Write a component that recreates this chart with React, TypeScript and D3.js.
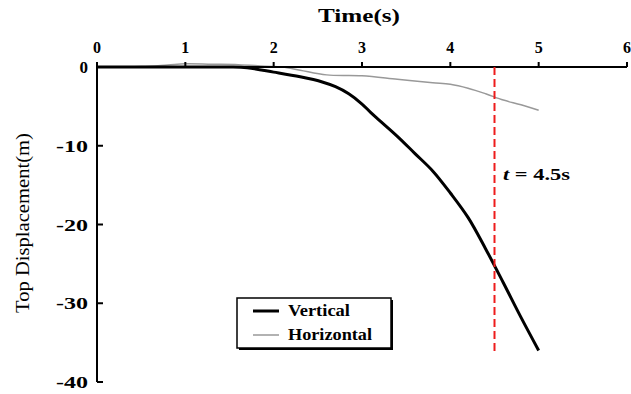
import React from "react";
import * as d3 from "d3";

const verticalTime = [0, 0.5, 1, 1.5, 1.7, 2.0, 2.3, 2.55, 2.7, 2.85, 3.0, 3.1, 3.2, 3.4, 3.6, 3.8, 4.0, 4.2, 4.4, 4.6, 4.8, 5.0];
const verticalDisp = [0, 0, 0, 0, -0.1, -0.65, -1.25, -1.9, -2.5, -3.4, -4.7, -5.8, -6.8, -8.8, -11.0, -13.2, -16.0, -19.1, -23.1, -27.4, -31.8, -36.0];

const horizontalTime = [0, 0.5, 0.8, 1.0, 1.3, 1.6, 1.9, 2.1, 2.3, 2.6, 3.0, 3.4, 3.8, 4.0, 4.2, 4.4, 4.6, 4.8, 5.0];
const horizontalDisp = [0, 0.05, 0.25, 0.4, 0.35, 0.3, 0.1, 0, -0.4, -1.0, -1.1, -1.55, -2.0, -2.2, -2.7, -3.4, -4.2, -4.8, -5.5];

const xTicks = [0, 1, 2, 3, 4, 5, 6];
const yTicks = [0, -10, -20, -30, -40];
const markerTime = 4.5;

const seriesNames = ["Vertical", "Horizontal"];

export default function App() {
  const x = d3.scaleLinear().domain([0, 6]).range([97, 627]);
  const y = d3.scaleLinear().domain([0, -40]).range([67, 382]);

  const line = d3
    .line<[number, number]>()
    .x((d) => x(d[0]))
    .y((d) => y(d[1]))
    .curve(d3.curveCatmullRom.alpha(0.5));

  const vData: [number, number][] = verticalTime.map((t, i) => [t, verticalDisp[i]]);
  const hData: [number, number][] = horizontalTime.map((t, i) => [t, horizontalDisp[i]]);

  const font = "Liberation Serif, Times New Roman, Times, serif";

  return (
    <svg
      width={631}
      height={394}
      style={{ position: "absolute", left: 0, top: 0, background: "#fff", fontFamily: font }}
    >
      <rect x={0} y={0} width={631} height={394} fill="#fff" />
      {/* title */}
      <text x={359} y={22} textAnchor="middle" fontSize={19} fontWeight="bold" fill="#000" textLength={82} lengthAdjust="spacingAndGlyphs" style={{ fontFamily: font }}>
        Time(s)
      </text>
      {/* y label */}
      <text
        transform={`translate(29,223) rotate(-90)`}
        textAnchor="middle"
        fontSize={18}
        fill="#000"
        textLength={180}
        lengthAdjust="spacingAndGlyphs"
        style={{ fontFamily: font }}
      >
        Top Displacement(m)
      </text>

      {/* curves */}
      <path d={line(hData) || ""} fill="none" stroke="#999" strokeWidth={1.5} />
      <path d={line(vData) || ""} fill="none" stroke="#000" strokeWidth={3} />

      {/* axes */}
      <line x1={x(0)} x2={x(6)} y1={y(0)} y2={y(0)} stroke="#000" strokeWidth={2} />
      <line x1={x(0)} x2={x(0)} y1={y(0) - 5} y2={y(-40)} stroke="#000" strokeWidth={2} />
      {xTicks.map((t) => (
        <g key={"xt" + t}>
          <line x1={x(t)} x2={x(t)} y1={y(0)} y2={y(0) - 5} stroke="#000" strokeWidth={2} />
          <text x={x(t)} y={53} textAnchor="middle" fontSize={16} fontWeight="bold" fill="#000" style={{ fontFamily: font }}>
            {t}
          </text>
        </g>
      ))}
      {yTicks.map((v) => (
        <g key={"yt" + v}>
          <line x1={x(0)} x2={x(0) + 6} y1={y(v)} y2={y(v)} stroke="#000" strokeWidth={2} />
          <text
            x={88}
            y={y(v) + 6}
            textAnchor="end"
            fontSize={17}
            fontWeight="bold"
            fill="#000"
            style={{ fontFamily: font }}
            {...(v !== 0 ? { textLength: 32, lengthAdjust: "spacingAndGlyphs" } : {})}
          >
            {v}
          </text>
        </g>
      ))}

      {/* marker line */}
      <line
        x1={x(markerTime)}
        x2={x(markerTime)}
        y1={y(0)}
        y2={352}
        stroke="#ee1c1c"
        strokeWidth={2}
        strokeDasharray="8,4"
      />
      <text x={503} y={180} fontSize={17} fontWeight="bold" fill="#000" textLength={67} lengthAdjust="spacingAndGlyphs" style={{ fontFamily: font }}>
        <tspan fontStyle="italic">t</tspan> = {markerTime}s
      </text>

      {/* legend */}
      <rect x={239} y={300} width={154} height={50} fill="#000" />
      <rect x={237} y={298} width={154} height={50} fill="#fff" stroke="#000" strokeWidth={1.5} />
      <line x1={253} x2={279} y1={311} y2={311} stroke="#000" strokeWidth={3} />
      <line x1={253} x2={279} y1={335} y2={335} stroke="#999" strokeWidth={1.5} />
      <text x={288} y={316} fontSize={16} fontWeight="bold" fill="#000" textLength={62} lengthAdjust="spacingAndGlyphs" style={{ fontFamily: font }}>
        {seriesNames[0]}
      </text>
      <text x={288} y={340} fontSize={16} fontWeight="bold" fill="#000" textLength={84} lengthAdjust="spacingAndGlyphs" style={{ fontFamily: font }}>
        {seriesNames[1]}
      </text>
    </svg>
  );
}
